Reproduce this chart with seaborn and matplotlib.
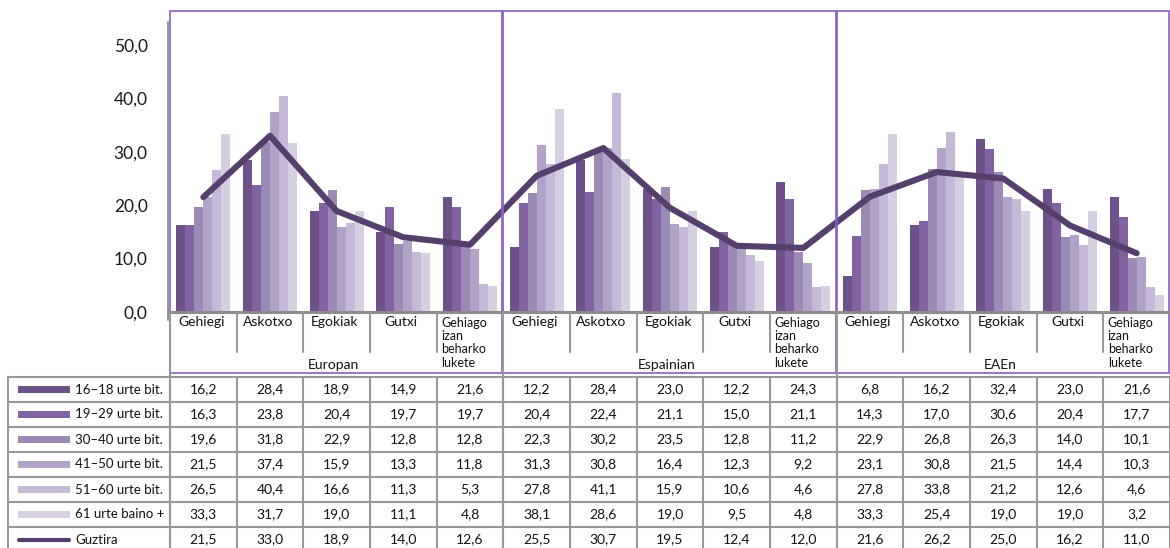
import numpy as np
import pandas as pd
import matplotlib.pyplot as plt
from matplotlib.patches import Rectangle
from matplotlib.ticker import FuncFormatter
import seaborn as sns


# 1. DATA

regions = ["Europan", "Espainian", "EAEn"]
answers = ["Gehiegi", "Askotxo", "Egokiak", "Gutxi", "Gehiago\nizan\nbeharko\nlukete"]
ages = ["16–18 urte bit.", "19–29 urte bit.", "30–40 urte bit.",
        "41–50 urte bit.", "51–60 urte bit.", "61 urte baino +"]

v_16_18 = [16.2, 28.4, 18.9, 14.9, 21.6, 12.2, 28.4, 23.0, 12.2, 24.3, 6.8, 16.2, 32.4, 23.0, 21.6]
v_19_29 = [16.3, 23.8, 20.4, 19.7, 19.7, 20.4, 22.4, 21.1, 15.0, 21.1, 14.3, 17.0, 30.6, 20.4, 17.7]
v_30_40 = [19.6, 31.8, 22.9, 12.8, 12.8, 22.3, 30.2, 23.5, 12.8, 11.2, 22.9, 26.8, 26.3, 14.0, 10.1]
v_41_50 = [21.5, 37.4, 15.9, 13.3, 11.8, 31.3, 30.8, 16.4, 12.3, 9.2, 23.1, 30.8, 21.5, 14.4, 10.3]
v_51_60 = [26.5, 40.4, 16.6, 11.3, 5.3, 27.8, 41.1, 15.9, 10.6, 4.6, 27.8, 33.8, 21.2, 12.6, 4.6]
v_61 = [33.3, 31.7, 19.0, 11.1, 4.8, 38.1, 28.6, 19.0, 9.5, 4.8, 33.3, 25.4, 19.0, 19.0, 3.2]
total_label = "Guztira"
total = [21.5, 33.0, 18.9, 14.0, 12.6, 25.5, 30.7, 19.5, 12.4, 12.0, 21.6, 26.2, 25.0, 16.2, 11.0]

series = [v_16_18, v_19_29, v_30_40, v_41_50, v_51_60, v_61]
colors = ["#6c5288", "#8063a0", "#9c8ab6", "#b1a2c8", "#c4b9d6", "#d6cfe2"]
line_color = "#553f6d"
grid_gray = "#999999"
box_purple = "#8a5cc4"
text_color = "#111111"


# 2. LONG TABLE FOR SEABORN

cat_ids = [f"{r}|{a}" for r in regions for a in answers]
rows = []
for age, vals in zip(ages, series):
    for cid, v in zip(cat_ids, vals):
        rows.append({"cat": cid, "age": age, "value": v})
df = pd.DataFrame(rows)


# 3. FIGURE

sns.set_theme(style="white")
plt.rcParams["font.family"] = ["Lato", "DejaVu Sans"]

W, H = 1170, 548
fig = plt.figure(figsize=(W / 100, H / 100), dpi=100)

x0, x1 = 170, 1170
y_base, y_top = 312, 312 - 55 * 5.34
ax = fig.add_axes([x0 / W, 1 - y_base / H, (x1 - x0) / W, (y_base - y_top) / H])

sns.barplot(data=df, x="cat", y="value", hue="age", order=cat_ids, hue_order=ages,
            palette=colors, saturation=1, width=0.81, linewidth=0, legend=False, ax=ax)
sns.lineplot(x=np.arange(len(total)), y=total, color=line_color, linewidth=4.4,
             solid_capstyle="round", solid_joinstyle="round", ax=ax, zorder=5)

ax.set_xlim(-0.5, len(cat_ids) - 0.5)
ax.set_ylim(0, 55)
ax.set_yticks(np.arange(0, 51, 10))
ax.yaxis.set_major_formatter(FuncFormatter(lambda v, p: f"{v:.1f}".replace(".", ",")))
ax.tick_params(axis="y", length=0, pad=16, labelsize=12.5, labelcolor="#1a1a1a")
ax.set_xticks([])
ax.set_xlabel("")
ax.set_ylabel("")
for s in ["top", "right", "bottom", "left"]:
    ax.spines[s].set_visible(False)
ax.patch.set_alpha(0)


# 4. OVERLAY IN PIXEL UNITS (category labels, boxes, data table)

ov = fig.add_axes([0, 0, 1, 1], zorder=10)
ov.set_xlim(0, W)
ov.set_ylim(H, 0)
ov.axis("off")
ov.patch.set_alpha(0)

cw = (x1 - x0) / len(cat_ids)


def cx(i):
    return x0 + (i + 0.5) * cw


# axis lines
ov.plot([168, 168], [22, 320], color=grid_gray, lw=1.5)
ov.plot([168, x1], [y_base, y_base], color="#8c8c8c", lw=2.2)

# category labels and separators
n_ans = len(answers)
for i, cid in enumerate(cat_ids):
    label = cid.split("|")[1]
    if "\n" in label:
        ov.text(cx(i) - 6, 317, label, ha="center", va="top", fontsize=9,
                linespacing=1.12, multialignment="left", color=text_color)
    else:
        ov.text(cx(i) - 2, 316, label, ha="center", va="top", fontsize=10, color=text_color)
    left = x0 + i * cw
    if i % n_ans != 0:
        ov.plot([left, left], [y_base, 352], color=grid_gray, lw=1.5)

for g, reg in enumerate(regions):
    gl = x0 + g * n_ans * cw
    gr = gl + n_ans * cw
    ov.text((gl + gr) / 2 - 3, 365, reg, ha="center", va="center", fontsize=10, color=text_color)
    ov.plot([gl, gl], [y_base, H], color=grid_gray, lw=1.5)
    ov.add_patch(Rectangle((gl, 10.5), gr - gl - 1, 362.5, fill=False,
                           edgecolor=box_purple, lw=1.2))

# data table
t_top, rh = 377, 25
all_rows = series + [total]
row_labels = ages + [total_label]
for k in range(len(all_rows) + 1):
    ov.plot([8, x1], [t_top + k * rh] * 2, color=grid_gray, lw=1.5)
ov.plot([8, 8], [t_top, H], color=grid_gray, lw=1.5)
for i in range(len(cat_ids) + 1):
    xl = x0 + i * cw
    ov.plot([xl, xl], [t_top, H], color=grid_gray, lw=1.5)

for r, (lab, vals) in enumerate(zip(row_labels, all_rows)):
    yc = t_top + (r + 0.5) * rh
    if r < len(colors):
        ov.add_patch(Rectangle((18, yc - 3.5), 52, 7, color=colors[r], lw=0))
    else:
        ov.plot([19, 69], [yc, yc], color=line_color, lw=3, solid_capstyle="round")
    ov.text(75, yc, lab, ha="left", va="center", fontsize=9.5, color=text_color)
    for i, v in enumerate(vals):
        ov.text(cx(i), yc, f"{v:.1f}".replace(".", ","), ha="center", va="center",
                fontsize=10, color=text_color)

fig.savefig("out.png", dpi=100)
